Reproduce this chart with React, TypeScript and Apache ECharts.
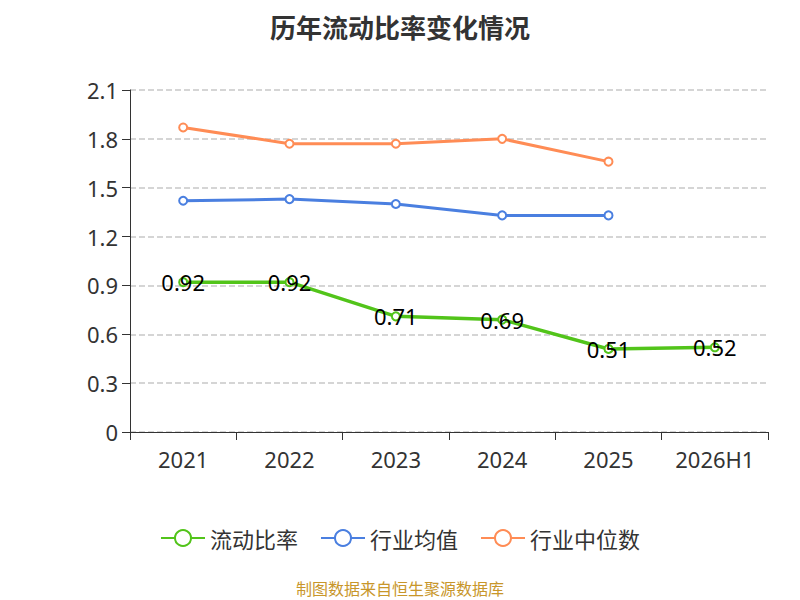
import * as echarts from 'echarts';
import { useEffect, useRef } from 'react';

const years = ['2021', '2022', '2023', '2024', '2025', '2026H1'];
const currentRatio = [0.92, 0.92, 0.71, 0.69, 0.51, 0.52];
const industryAvg = [1.42, 1.43, 1.40, 1.33, 1.33];
const industryMedian = [1.87, 1.77, 1.77, 1.80, 1.66];

const App = () => {
    const chartDiv = useRef<HTMLDivElement>(null);

    useEffect(() => {
        const chart = echarts.init(chartDiv.current, null, { renderer: 'svg' });
        const font = '"Noto Sans", sans-serif';
        chart.setOption({
            animation: false,
            textStyle: { fontFamily: font },
            title: {
                text: '历年流动比率变化情况',
                left: 'center',
                top: 0,
                textStyle: { fontSize: 26, fontWeight: 'bold', color: '#333', fontFamily: '"Noto Sans CJK SC"' }
            },
            legend: {
                top: 514,
                left: 'center',
                itemWidth: 44,
                itemHeight: 20,
                itemGap: 22,
                textStyle: { fontSize: 22, color: '#333', fontFamily: '"Noto Sans CJK SC"' },
                data: ['流动比率', '行业均值', '行业中位数']
            },
            graphic: [{
                type: 'text',
                left: 'center',
                top: 572,
                style: { text: '制图数据来自恒生聚源数据库', fill: '#c8962a', fontSize: 16, fontFamily: '"Noto Sans CJK SC"' }
            }],
            grid: { left: 122, right: 24, top: 82, bottom: 168 },
            xAxis: {
                type: 'category',
                data: years,
                axisLine: { lineStyle: { color: '#333' } },
                axisTick: { show: true, length: 8, lineStyle: { color: '#333' } },
                axisLabel: { fontSize: 22, color: '#333', margin: 16 }
            },
            yAxis: {
                type: 'value',
                min: 0,
                max: 2.1,
                interval: 0.3,
                axisLine: { show: true, lineStyle: { color: '#333' } },
                axisTick: { show: true, length: 8, lineStyle: { color: '#333' } },
                axisLabel: { fontSize: 22, color: '#333', margin: 12, formatter: (v: number) => (v === 0 ? '0' : v.toFixed(1)) },
                splitLine: { lineStyle: { type: 'dashed', color: '#c8c8c8', width: 1.5 } }
            },
            series: [
                {
                    name: '流动比率',
                    type: 'line',
                    data: currentRatio,
                    symbol: 'emptyCircle',
                    symbolSize: 8,
                    lineStyle: { width: 3.5, color: '#52c41a' },
                    itemStyle: { color: '#52c41a' },
                    label: { show: true, position: 'inside', fontSize: 22, color: '#000' }
                },
                {
                    name: '行业均值',
                    type: 'line',
                    data: industryAvg,
                    symbol: 'emptyCircle',
                    symbolSize: 8,
                    lineStyle: { width: 3, color: '#4a7fe0' },
                    itemStyle: { color: '#4a7fe0' }
                },
                {
                    name: '行业中位数',
                    type: 'line',
                    data: industryMedian,
                    symbol: 'emptyCircle',
                    symbolSize: 8,
                    lineStyle: { width: 3, color: '#ff8c55' },
                    itemStyle: { color: '#ff8c55' }
                }
            ]
        });
        return () => {
            chart.dispose();
        };
    }, []);

    return <div ref={chartDiv} style={{ width: '784px', height: '592px' }} />;
};

export default App;
